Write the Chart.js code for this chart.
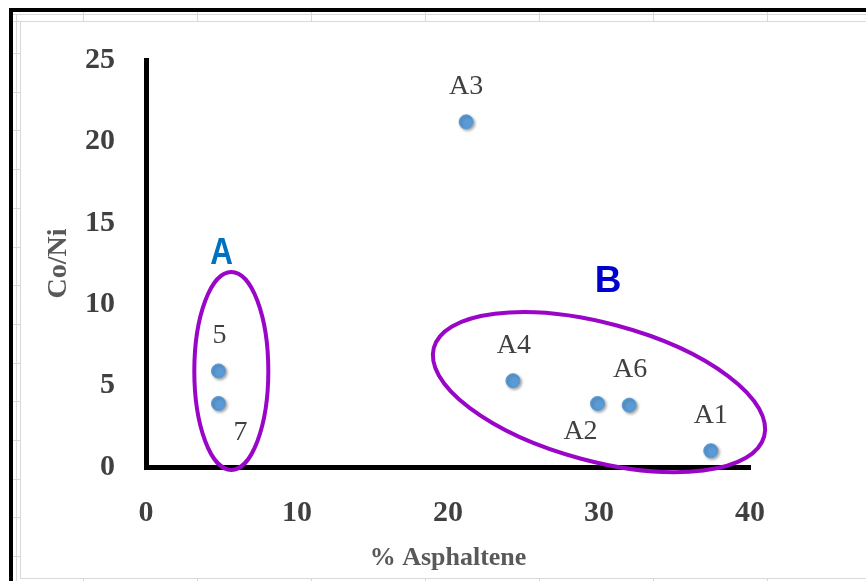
<!DOCTYPE html>
<html>
<head>
<meta charset="utf-8">
<style>
  html, body { margin: 0; padding: 0; background: #fff; }
  #wrap { position: relative; width: 866px; height: 581px; }
</style>
<script src="https://cdn.jsdelivr.net/npm/chart.js@4.4.0/dist/chart.umd.min.js"></script>
</head>
<body>
<div id="wrap"><canvas id="chart" width="866" height="581"></canvas></div>
<script>
// values
const sampleNames = ['5', '7', 'A3', 'A4', 'A2', 'A6', 'A1'];
const asphaltene = [4.8, 4.8, 21.2, 24.3, 29.9, 32.0, 37.4];
const coNi = [5.9, 3.9, 21.2, 5.3, 3.9, 3.8, 1.0];
const xTicks = [0, 10, 20, 30, 40];
const yTicks = [0, 5, 10, 15, 20, 25];
const groupNames = ['A', 'B'];

// where each point label sits (px from its point)
const labelOffsets = {
  '5': [1, -35], '7': [22, 29], 'A3': [0, -35], 'A4': [1, -35],
  'A2': [-17, 28], 'A6': [1, -35], 'A1': [0, -35]
};

// circled groups: centre and letter in data units, radii in px
const groupShapes = [
  { cx: 5.65, cy: 5.9, rx: 37, ry: 99, angle: 0, lx: 5.0, ly: 13.1, color: '#0070C0', squeeze: 0.85 },
  { cx: 30.0, cy: 4.6, rx: 171, ry: 69, angle: 15, lx: 30.6, ly: 11.4, color: '#0000CC', squeeze: 1 }
];

// spreadsheet look behind the chart
const sheetBackground = {
  id: 'sheetBackground',
  beforeDraw(chart) {
    const { ctx, width, height } = chart;
    ctx.save();
    ctx.fillStyle = '#fff';
    ctx.fillRect(0, 0, width, height);
    ctx.strokeStyle = '#d9d9d9';
    ctx.lineWidth = 1;
    ctx.beginPath();
    ctx.moveTo(13, 14.5); ctx.lineTo(width, 14.5);
    ctx.moveTo(13, 21.5); ctx.lineTo(width, 21.5);
    ctx.moveTo(20.5, 21.5); ctx.lineTo(20.5, 578.5); ctx.lineTo(width, 578.5);
    ctx.moveTo(16.5, 14); ctx.lineTo(16.5, height);
    for (const x of [83, 197, 311, 425, 539, 653, 767]) {
      ctx.moveTo(x + 0.5, 12); ctx.lineTo(x + 0.5, 21);
      ctx.moveTo(x + 0.5, 579); ctx.lineTo(x + 0.5, height);
    }
    for (let y = 53; y < height; y += 38.7) {
      ctx.moveTo(13, Math.round(y) + 0.5); ctx.lineTo(20, Math.round(y) + 0.5);
    }
    ctx.stroke();
    ctx.fillStyle = '#000';
    ctx.fillRect(9, 8, 4, height - 8);
    ctx.fillRect(9, 8, width - 9, 4);
    ctx.restore();
  }
};

// soft shadow under the markers
const pointShadow = {
  id: 'pointShadow',
  beforeDatasetDraw(chart) {
    const ctx = chart.ctx;
    ctx.save();
    ctx.shadowColor = 'rgba(0,0,0,0.35)';
    ctx.shadowBlur = 3;
    ctx.shadowOffsetX = 1.5;
    ctx.shadowOffsetY = 1.5;
  },
  afterDatasetDraw(chart) {
    chart.ctx.restore();
  }
};

// point names, group ellipses and group letters
const annotations = {
  id: 'annotations',
  afterDatasetsDraw(chart) {
    const { ctx, scales: { x, y } } = chart;
    const meta = chart.getDatasetMeta(0);
    ctx.save();
    ctx.font = '28px "Liberation Serif"';
    ctx.fillStyle = '#404040';
    ctx.textAlign = 'center';
    ctx.textBaseline = 'middle';
    meta.data.forEach((pt, i) => {
      const name = sampleNames[i];
      const [dx, dy] = labelOffsets[name];
      ctx.fillText(name, pt.x + dx, pt.y + dy);
    });

    groupShapes.forEach((g, i) => {
      ctx.save();
      ctx.strokeStyle = '#9A06C8';
      ctx.lineWidth = 4;
      ctx.beginPath();
      ctx.ellipse(x.getPixelForValue(g.cx), y.getPixelForValue(g.cy), g.rx, g.ry,
        g.angle * Math.PI / 180, 0, Math.PI * 2);
      ctx.stroke();
      ctx.translate(x.getPixelForValue(g.lx), y.getPixelForValue(g.ly));
      ctx.scale(g.squeeze, 1);
      ctx.font = 'bold 37px "Liberation Sans"';
      ctx.fillStyle = g.color;
      ctx.fillText(groupNames[i], 0, 0);
      ctx.restore();
    });
    ctx.restore();
  }
};

new Chart(document.getElementById('chart'), {
  type: 'scatter',
  data: {
    datasets: [{
      label: 'Co/Ni',
      data: asphaltene.map((v, i) => ({ x: v, y: coNi[i] })),
      backgroundColor: '#5B9BD5',
      borderColor: '#5B9BD5',
      pointRadius: 7,
      pointHoverRadius: 7
    }]
  },
  options: {
    responsive: false,
    animation: false,
    layout: { padding: { left: 20, top: 60, right: 116, bottom: 0 } },
    plugins: { legend: { display: false }, tooltip: { enabled: false } },
    scales: {
      x: {
        type: 'linear',
        min: 0,
        max: 40,
        afterBuildTicks: (s) => { s.ticks = xTicks.map(v => ({ value: v })); },
        afterFit: (s) => { s.height = 114; },
        grid: { display: false, drawTicks: false },
        border: { display: true, color: '#000', width: 5 },
        ticks: {
          padding: 28,
          color: '#404040',
          font: { family: 'Liberation Serif', size: 30, weight: 'bold' }
        },
        title: {
          display: true,
          text: '% Asphaltene',
          color: '#595959',
          padding: { top: 0, bottom: 7 },
          font: { family: 'Liberation Serif', size: 26, weight: 'bold' }
        }
      },
      y: {
        type: 'linear',
        min: 0,
        max: 25,
        afterBuildTicks: (s) => { s.ticks = yTicks.map(v => ({ value: v })); },
        afterFit: (s) => { s.width = 126; },
        grid: { display: false, drawTicks: false },
        border: { display: true, color: '#000', width: 5 },
        ticks: {
          padding: 31,
          color: '#404040',
          font: { family: 'Liberation Serif', size: 30, weight: 'bold' }
        },
        title: {
          display: true,
          text: 'Co/Ni',
          color: '#595959',
          padding: { top: 22, bottom: 0 },
          font: { family: 'Liberation Serif', size: 28, weight: 'bold' }
        }
      }
    }
  },
  plugins: [sheetBackground, pointShadow, annotations]
});
</script>
</body>
</html>
